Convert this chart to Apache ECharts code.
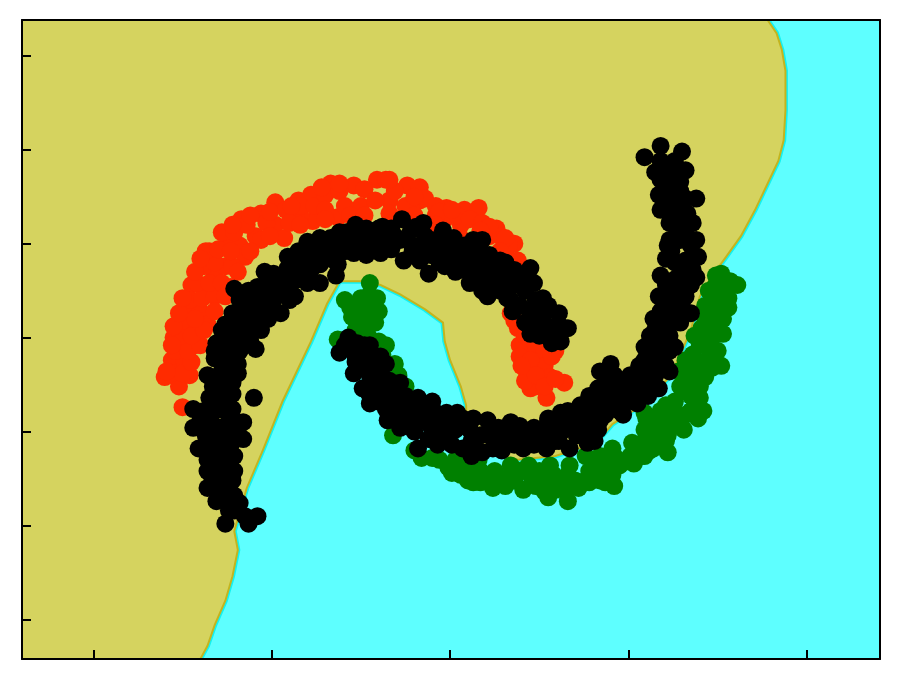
<!DOCTYPE html>
<html><head><meta charset="utf-8">
<style>html,body{margin:0;padding:0;background:#fff}#c{width:900px;height:680px}</style>
<script src="https://cdn.jsdelivr.net/npm/echarts@6/dist/echarts.min.js"></script>
</head><body><div id="c"></div>
<script>
var xTicks=[-2,-1,0,1,2];
var yTicks=[-1,-0.5,0,0.5,1,1.5,2];
var boundary=[[-2.6,2.4],[1.78,2.4],[1.78,2.19],[1.83,2.12],[1.86,2.03],[1.88,1.92],[1.88,1.71],[1.87,1.55],[1.84,1.44],[1.79,1.34],[1.71,1.18],[1.63,1.04],[1.54,0.92],[1.47,0.83],[1.40,0.72],[1.35,0.54],[1.24,0.30],[1.09,0.15],[0.91,0.04],[0.82,-0.06],[0.59,-0.13],[0.38,-0.15],[0.17,-0.10],[0.09,-0.02],[0.09,0.14],[0.06,0.24],[0.00,0.38],[-0.03,0.48],[-0.04,0.58],[-0.14,0.65],[-0.28,0.73],[-0.39,0.78],[-0.48,0.80],[-0.62,0.80],[-0.69,0.68],[-0.78,0.48],[-0.94,0.16],[-1.05,-0.10],[-1.14,-0.30],[-1.21,-0.53],[-1.19,-0.63],[-1.22,-0.77],[-1.26,-0.90],[-1.32,-1.03],[-1.36,-1.14],[-1.40,-1.21],[-1.40,-1.4],[-2.6,-1.4]];
var redPoints=[[-1.60,0.29],[-1.50,0.13],[-1.52,0.24],[-1.56,0.38],[-1.55,0.50],[-1.49,0.65],[-1.45,0.78],[-1.35,0.96],[-1.24,1.03],[-1.17,1.13],[-1.06,1.16],[-0.98,1.22],[-0.85,1.23],[-0.78,1.26],[-0.67,1.32],[-0.54,1.31],[-0.41,1.34],[-0.24,1.31],[-0.17,1.30],[-0.02,1.19],[0.08,1.18],[0.16,1.19],[0.26,1.08],[0.36,1.00],[0.38,0.91],[0.34,0.63],[0.38,0.55],[0.43,0.43],[0.43,0.32],[0.64,0.26],[0.45,0.23],[0.54,0.18],[0.59,0.43],[0.49,0.38],[0.50,0.29],[-1.51,0.46],[-1.49,0.38],[-1.46,0.30],[-1.43,0.46],[-1.46,0.56],[-1.40,0.64],[-1.37,0.75],[-1.32,0.83],[-1.26,0.88],[-1.18,0.99],[-1.09,1.04],[-0.98,1.10],[-0.93,1.03],[-0.77,1.12],[-0.63,1.14],[-1.15,0.93],[-1.23,0.77],[-1.36,0.57],[-0.84,1.15],[-0.50,1.20],[-0.34,1.23],[-0.22,1.20],[-0.08,1.15],[0.06,1.10],[0.22,1.04],[0.39,0.46],
[-1.56,0.31],[-1.50,0.31],[-1.45,0.37],[-1.54,0.43],[-1.47,0.43],[-1.40,0.46],[-1.51,0.51],[-1.45,0.51],[-1.38,0.54],[-1.50,0.59],[-1.43,0.60],[-1.46,0.70],[-1.39,0.71],[-1.32,0.72],[-1.42,0.79],[-1.35,0.79],[-1.28,0.79],[-1.38,0.88],[-1.32,0.90],[-1.22,0.88],[-1.37,0.96],[-1.30,0.97],[-1.23,0.96],[-1.28,1.06],[-1.21,1.06],[-1.14,1.10],[-1.03,1.11],[-1.06,1.02],[-1.01,1.17],[-0.92,1.18],[-0.90,1.11],[-0.84,1.20],[-0.76,1.20],[-0.70,1.26],[-0.70,1.18],[-0.62,1.28],[-0.59,1.20],[-0.48,1.29],[-0.56,1.15],[-0.42,1.23],[-0.36,1.34],[-0.31,1.28],[-0.25,1.20],[-0.17,1.23],[-0.14,1.24],[-0.08,1.20],[-0.03,1.13],[0.04,1.15],[0.11,1.13],[0.18,1.11],[0.28,1.04],[0.33,0.99],[0.33,0.91],[0.36,0.59],[0.42,0.51],[0.48,0.46],[0.53,0.43],[0.48,0.32],[0.53,0.35],[0.56,0.29],[0.48,0.24],[0.42,0.27],
[-1.56,0.46],[-1.59,0.32],[-1.55,0.56],[-1.52,0.63],[-1.50,0.71],[-1.43,0.85],[-1.40,0.92],[-1.22,1.10],[-1.12,1.15],[-0.89,1.20],[-0.72,1.30],[-0.62,1.32],[-0.34,1.34],[-0.20,1.25],[-0.06,1.17],[0.01,1.18],[0.22,1.09],[0.31,1.03],[-1.32,0.64],[-1.26,0.72],[-1.19,0.85],[-1.12,0.96],[-1.01,1.04],[-0.84,1.10],[-0.70,1.13],[-0.48,1.15],[-0.34,1.16],[-0.20,1.15],[-0.08,1.10],[0.06,1.03],[0.17,1.07],[0.28,0.96],[0.39,0.40],[0.45,0.38],[0.57,0.40],[0.48,0.30],[0.53,0.24],[0.40,0.35],[0.59,0.28]];
var greenPoints=[[-0.45,0.79],[-0.59,0.70],[-0.41,0.71],[-0.50,0.71],[-0.55,0.61],[-0.42,0.58],[-0.49,0.64],[-0.63,0.49],[-0.40,0.48],[-0.31,0.36],[-0.25,0.24],[-0.32,-0.02],[-0.16,-0.14],[-0.38,0.41],[-0.01,-0.19],[0.10,-0.26],[0.13,-0.27],[0.24,-0.30],[0.41,-0.31],[0.55,-0.35],[0.66,-0.37],[0.78,-0.27],[0.92,-0.29],[1.03,-0.17],[1.14,-0.09],[1.22,-0.11],[1.31,0.01],[1.10,0.07],[1.02,-0.06],[0.91,-0.09],[1.09,0.10],[1.28,0.32],[1.36,0.41],[1.52,0.35],[1.41,0.55],[1.53,0.52],[1.56,0.66],[1.45,0.75],[1.52,0.84],[1.61,0.78],[1.57,0.80],[1.42,0.11],[1.40,0.18],[1.43,0.29],[1.40,0.46],[1.46,0.59],[1.43,0.67],[1.49,0.70],[1.40,0.35],[1.35,0.30],[1.35,0.19],[1.29,0.24],[1.26,0.16],[1.23,0.09],[1.35,0.11],[1.18,0.03],[1.26,0.03],[1.15,-0.05],[1.06,-0.10],[1.01,-0.13],[0.95,-0.18],[0.87,-0.21],[0.78,-0.21],[0.70,-0.26],[0.62,-0.26],[0.53,-0.26],[0.45,-0.23],[0.34,-0.23],[0.25,-0.21],[0.17,-0.21],[0.08,-0.18],[-0.06,-0.15],[0.64,-0.31],[0.84,-0.26],[0.48,-0.29],[0.36,-0.26],[1.12,0.01],[1.32,0.38],[1.37,0.51],
[-0.53,0.64],[-0.46,0.51],[-0.53,0.54],[-0.40,0.64],[-0.29,0.30],[-0.20,-0.10],[-0.10,-0.14],[0.03,-0.15],[0.01,-0.22],[0.06,-0.23],[0.17,-0.27],[0.16,-0.15],[0.31,-0.29],[0.34,-0.18],[0.44,-0.18],[0.56,-0.18],[0.67,-0.18],[0.76,-0.13],[0.84,-0.13],[0.92,-0.13],[0.59,-0.31],[0.72,-0.30],[0.53,-0.32],[0.87,-0.27],[1.09,-0.13],[1.21,-0.05],[1.29,0.03],[1.39,0.07],[1.18,0.11],[1.49,0.78],[1.51,0.72],[1.46,0.48],[1.46,0.40],[1.46,0.64],[1.40,0.24],[1.21,0.14],[1.12,0.06],[1.09,0.01],[1.18,-0.05],[1.47,0.34],[1.37,0.17],[1.53,0.60],[1.56,0.71],[1.50,0.43],
[0.03,-0.21],[0.11,-0.21],[0.21,-0.25],[0.28,-0.25],[0.39,-0.21],[0.50,-0.21],[0.58,-0.23],[0.66,-0.23],[0.76,-0.26],[0.81,-0.16],[0.90,-0.16],[0.91,-0.23],[0.98,-0.16],[1.05,-0.14],[1.12,-0.10],[1.09,-0.05],[1.15,0.00],[1.22,-0.02],[1.24,0.11],[1.32,0.09],[1.37,0.12],[1.32,0.22],[1.36,0.24],[1.31,0.31],[1.37,0.35],[1.45,0.39],[1.43,0.51],[1.50,0.56],[1.49,0.62],[1.53,0.67],[1.43,0.60],[1.46,0.74],[1.54,0.75],[1.49,0.83],[-0.46,0.72],[-0.56,0.66],[-0.49,0.58],[-0.45,0.65],[-0.36,0.46]];
var blackUpper=[[-1.10,0.18],[-1.21,0.76],[-1.26,-0.49],[-1.08,-0.45],[-1.13,-0.49],[-1.36,-0.30],[-1.36,-0.21],[-1.41,-0.09],[-1.16,-0.04],[-1.44,0.02],[-1.16,0.05],[-1.44,0.12],[-1.22,0.12],[-1.35,0.18],[-1.36,0.30],[-1.19,0.31],[-1.32,0.39],[-1.09,0.44],[-1.19,0.36],[-1.32,0.11],[-1.26,0.03],[-1.32,-0.05],[-1.23,-0.07],[-1.32,-0.13],[-1.23,-0.15],[-1.29,-0.23],[-1.22,-0.26],[-1.28,-0.34],[-1.21,-0.34],[-1.21,-0.42],[-1.24,-0.39],[-1.15,-0.45],[-1.26,-0.02],[-1.35,0.06],[-1.26,0.19],[-1.28,0.27],[-1.26,0.35],[-1.18,0.43],[-1.24,0.44],[-1.29,0.48],[-1.31,0.47],[-1.26,0.57],[-1.22,0.63],[-0.95,0.63],[-1.08,0.77],[-1.06,0.54],[-1.12,0.48],[-1.18,0.70],[-0.99,0.70],[-0.99,0.84],[-0.91,0.93],[-0.80,1.01],[-0.73,1.03],[-0.73,0.79],[-0.80,0.79],[-0.63,0.89],[-0.53,1.10],[-0.58,1.06],[-0.47,1.08],[-0.47,0.94],[-0.54,0.95],[-0.91,0.87],[-0.82,0.86],[-0.73,0.89],[-0.63,0.98],[-0.54,1.02],[-0.43,1.02],[-0.38,1.09],[-0.27,1.13],[-0.15,1.11],[-0.04,1.07],[0.02,1.03],[0.18,1.02],[0.13,1.02],[0.31,0.90],[0.45,0.87],[0.47,0.79],[0.52,0.71],[0.61,0.63],[0.66,0.55],[0.62,0.48],[0.57,0.47],[0.45,0.52],[0.32,0.71],[0.21,0.72],[0.11,0.79],[0.03,0.85],[-0.12,0.84],[-0.26,0.91],[-0.39,0.95],[-0.17,0.91],[-0.28,1.02],[-0.17,0.99],[-0.06,0.96],[0.06,0.94],[0.17,0.88],[0.25,0.80],[0.36,0.78],[0.39,0.67],[0.48,0.62],[0.53,0.56],[0.28,0.86],[0.11,0.91],[-0.03,0.88],[-0.34,1.02],[-1.12,0.64],[-1.04,0.70],[-0.90,0.78],[-1.18,0.56],
[-1.31,-0.37],[-1.18,-0.38],[-1.30,-0.29],[-1.29,-0.18],[-1.21,-0.21],[-1.36,-0.15],[-1.21,-0.13],[-1.37,-0.02],[-1.37,-0.09],[-1.28,-0.09],[-1.19,0.02],[-1.40,0.06],[-1.38,0.11],[-1.26,0.11],[-1.22,0.20],[-1.32,0.22],[-1.32,0.28],[-1.22,0.26],[-1.28,0.32],[-1.23,0.39],[-1.15,0.46],[-1.32,0.43],[-1.23,0.51],[-1.16,0.53],[-1.11,0.56],[-1.28,0.54],[-1.18,0.60],[-1.09,0.62],[-1.02,0.60],[-1.12,0.70],[-1.05,0.68],[-1.13,0.75],[-1.01,0.78],[-0.93,0.75],[-0.87,0.72],[-1.04,0.85],[-0.94,0.83],[-0.87,0.90],[-0.85,0.81],[-0.78,0.86],[-0.85,0.96],[-0.77,0.94],[-0.70,0.96],[-0.64,0.83],[-0.67,1.03],[-0.62,1.06],[-0.59,0.96],[-0.50,1.07],[-0.50,0.99],[-0.40,1.08],[-0.36,1.02],[-0.33,1.08],[-0.22,1.07],[-0.14,1.04],[-0.08,1.02],[-0.21,0.96],[-0.11,0.94],[-0.03,0.99],[0.08,0.99],[0.00,0.91],[0.08,0.86],[0.16,0.96],[0.22,0.94],[0.22,0.87],[0.16,0.80],[0.31,0.83],[0.18,0.75],[0.28,0.75],[0.34,0.70],[0.42,0.75],[0.39,0.83],[0.48,0.70],[0.53,0.63],[0.44,0.59],[0.59,0.56],[0.50,0.51],
[-1.37,0.03],[-1.32,0.03],[-1.22,-0.01],[-1.21,0.06],[-1.32,-0.26],[-1.34,-0.23],[-1.26,-0.18],[-1.24,-0.13],[-1.24,-0.30],[-1.24,-0.42],[-1.29,0.17],[-1.33,0.24],[-1.25,0.16],[-1.22,0.06],[-1.19,0.48],[-1.26,0.40],[-1.22,0.56],[-1.15,0.64],[-1.08,0.70],[-1.04,0.75],[-0.96,0.75],[-0.90,0.70],[-1.01,0.67],[-0.93,0.80],[-0.84,0.90],[-0.78,0.90],[-0.81,0.96],[-0.74,0.98],[-0.67,0.92],[-0.64,0.99],[-0.59,1.02],[-0.48,1.02],[-0.40,0.97],[-0.33,0.97],[-0.31,1.04],[-0.24,1.02],[-0.19,1.09],[-0.11,1.02],[-0.06,0.90],[0.01,0.96],[0.07,0.88],[0.11,0.96],[0.14,0.86],[0.22,0.80],[0.28,0.91],[0.34,0.78],[0.42,0.80],[0.36,0.86],[0.35,0.64],[0.45,0.64],[0.50,0.60],[0.56,0.51],[0.48,0.55],[0.62,0.56],[0.55,0.67],[0.42,0.58]];
var blackLower=[[-0.57,0.50],[-0.62,0.42],[-0.54,0.31],[-0.45,0.15],[-0.35,0.06],[-0.28,0.02],[-0.18,-0.09],[-0.10,0.16],[-0.18,0.18],[-0.28,0.26],[-0.36,0.36],[-0.45,0.46],[-0.52,0.47],[-0.02,0.10],[0.04,0.10],[0.13,0.07],[0.21,0.06],[0.12,-0.13],[0.07,-0.09],[-0.08,-0.03],[-0.48,0.35],[-0.42,0.24],[-0.34,0.16],[-0.53,0.40],[-0.39,0.30],[-0.25,0.11],[-0.17,0.06],[-0.06,0.03],[0.03,0.01],[0.17,-0.02],[0.28,-0.05],[-0.31,0.14],[0.18,-0.11],[0.29,-0.10],[0.41,-0.09],[0.54,-0.09],[0.67,-0.09],[0.77,-0.06],[0.83,0.01],[0.34,0.05],[0.47,0.02],[0.62,0.10],[0.73,0.14],[0.84,0.23],[0.97,0.09],[1.05,0.15],[1.16,0.23],[0.91,0.13],[0.90,0.36],[0.83,0.23],[1.17,0.23],[1.03,0.16],[1.09,0.45],[1.14,0.60],[1.17,0.72],[1.21,0.92],[1.23,1.11],[1.17,1.26],[1.38,1.24],[1.09,1.46],[1.18,1.52],[1.30,1.49],[1.32,1.39],[1.15,1.38],[1.36,1.11],[1.38,1.02],[1.39,0.93],[1.38,0.82],[1.35,0.63],[1.26,0.45],[1.23,0.32],[1.18,1.18],[1.29,1.28],[1.23,1.39],[1.29,1.18],[1.29,1.02],[1.32,0.91],[1.29,0.80],[1.26,0.70],[1.21,0.59],[1.23,0.51],[1.15,0.46],[1.12,0.35],[1.06,0.30],[0.95,0.24],[1.01,0.30],[1.18,0.38],[0.90,0.19],[0.76,0.06],[0.64,0.01],[0.78,0.11],[0.56,0.01],[1.18,0.83],[1.22,0.72],[1.12,0.51],[0.92,0.30],[0.45,-0.05],[0.70,0.01],[0.95,0.16],[1.23,1.31],
[-0.56,0.46],[-0.49,0.23],[-0.49,0.40],[-0.42,0.40],[-0.45,0.30],[-0.34,0.27],[-0.39,0.19],[-0.25,0.19],[-0.21,0.11],[-0.28,0.07],[-0.14,0.11],[-0.11,0.03],[-0.03,-0.02],[0.01,-0.07],[0.08,0.03],[0.12,-0.05],[0.22,-0.02],[0.24,-0.09],[0.35,-0.02],[0.39,0.03],[0.42,-0.03],[0.50,-0.03],[0.55,0.07],[0.62,0.03],[0.61,-0.05],[0.68,0.09],[0.71,-0.02],[0.80,0.03],[0.83,0.14],[0.87,0.09],[0.88,0.24],[0.96,0.19],[1.01,0.23],[1.06,0.23],[1.09,0.38],[0.84,0.32],[1.18,0.54],[1.26,0.59],[1.21,0.67],[1.29,0.63],[1.23,0.78],[1.32,0.72],[1.24,0.96],[1.32,0.85],[1.23,1.02],[1.33,1.11],[1.26,1.10],[1.24,1.23],[1.32,1.24],[1.18,1.34],[1.26,1.44],[1.18,1.44],[1.29,1.38],[1.35,0.99],[1.15,0.54],[1.18,0.64],
[1.29,1.33],[1.21,1.20],[1.26,1.16],[1.33,1.16],[1.26,1.02],[1.32,1.06],[1.22,0.99],[1.26,0.90],[1.36,0.86],[1.26,0.81],[1.35,0.78],[1.21,0.78],[1.28,0.75],[1.30,0.69],[1.22,0.64],[1.18,0.58],[1.29,0.58],[1.15,0.51],[1.19,0.48],[1.23,0.43],[1.18,0.42],[1.12,0.42],[1.21,0.35],[1.15,0.30],[1.09,0.24],[1.11,0.19],[0.98,0.27],[1.06,0.35],[0.90,0.27],[0.95,0.11],[0.87,0.16],[0.78,0.19],[0.84,0.06],[0.70,0.06],[0.66,0.11],[0.55,0.06],[0.34,-0.02],[0.27,0.02],[0.11,0.01],[0.07,0.07],[0.00,0.06],[-0.08,0.10],[-0.07,-0.07],[-0.12,-0.04],[-0.20,0.00],[-0.24,0.05],[-0.18,0.10],[-0.28,0.16],[-0.36,0.12],[-0.40,0.16],[-0.46,0.21],[-0.53,0.37],[-0.59,0.46],[-0.33,0.21],[-0.42,0.31],[-0.48,0.46],[-0.39,0.40],[0.59,-0.05],[0.47,-0.07],[0.36,-0.07],[0.25,-0.04],[0.76,-0.01],[0.81,-0.05]];

function dots(name,data,color){return{name:name,type:'scatter',data:data,symbol:'circle',symbolSize:18,itemStyle:{color:color,opacity:1},z:3,clip:true,silent:true};}
function region(params,api){
  if(params.dataIndex!==0)return null;
  var pts=boundary.map(function(p){return api.coord(p);});
  return{type:'group',children:[
    {type:'polygon',shape:{points:pts},style:{fill:'#D5D35F',stroke:'#12F2F2',lineWidth:5}},
    {type:'polygon',shape:{points:pts},style:{fill:'#D5D35F',stroke:'#C4B41E',lineWidth:2}}
  ]};
}
var xRange={min:-2.4,max:2.41},yRange={min:-1.21,max:2.19};
function frameAxis(range,pos){return{type:'value',min:range.min,max:range.max,position:pos,splitLine:{show:false},axisLabel:{show:false},axisTick:{show:false},axisLine:{show:true,onZero:false,lineStyle:{color:'#000',width:2}},z:6};}
function tickAxis(range,pos,ticks){var a=frameAxis(range,pos);a.axisTick={show:true,inside:true,length:9,customValues:ticks,lineStyle:{color:'#000',width:2}};return a;}
var chart=echarts.init(document.getElementById('c'),null,{renderer:'canvas'});
chart.setOption({
  animation:false,
  backgroundColor:'#fff',
  grid:{left:22,right:20,top:20,bottom:21,show:true,backgroundColor:'#5EFFFF',borderWidth:0,containLabel:false},
  xAxis:[tickAxis(xRange,'bottom',xTicks),frameAxis(xRange,'top')],
  yAxis:[tickAxis(yRange,'left',yTicks),frameAxis(yRange,'right')],
  series:[
    {name:'region',type:'custom',renderItem:region,data:boundary,clip:true,silent:true,z:1,encode:{x:0,y:1}},
    dots('red',redPoints,'#FF2B00'),
    dots('green',greenPoints,'#008000'),
    dots('black upper',blackUpper,'#000'),
    dots('black lower',blackLower,'#000')
  ]
});
</script></body></html>
